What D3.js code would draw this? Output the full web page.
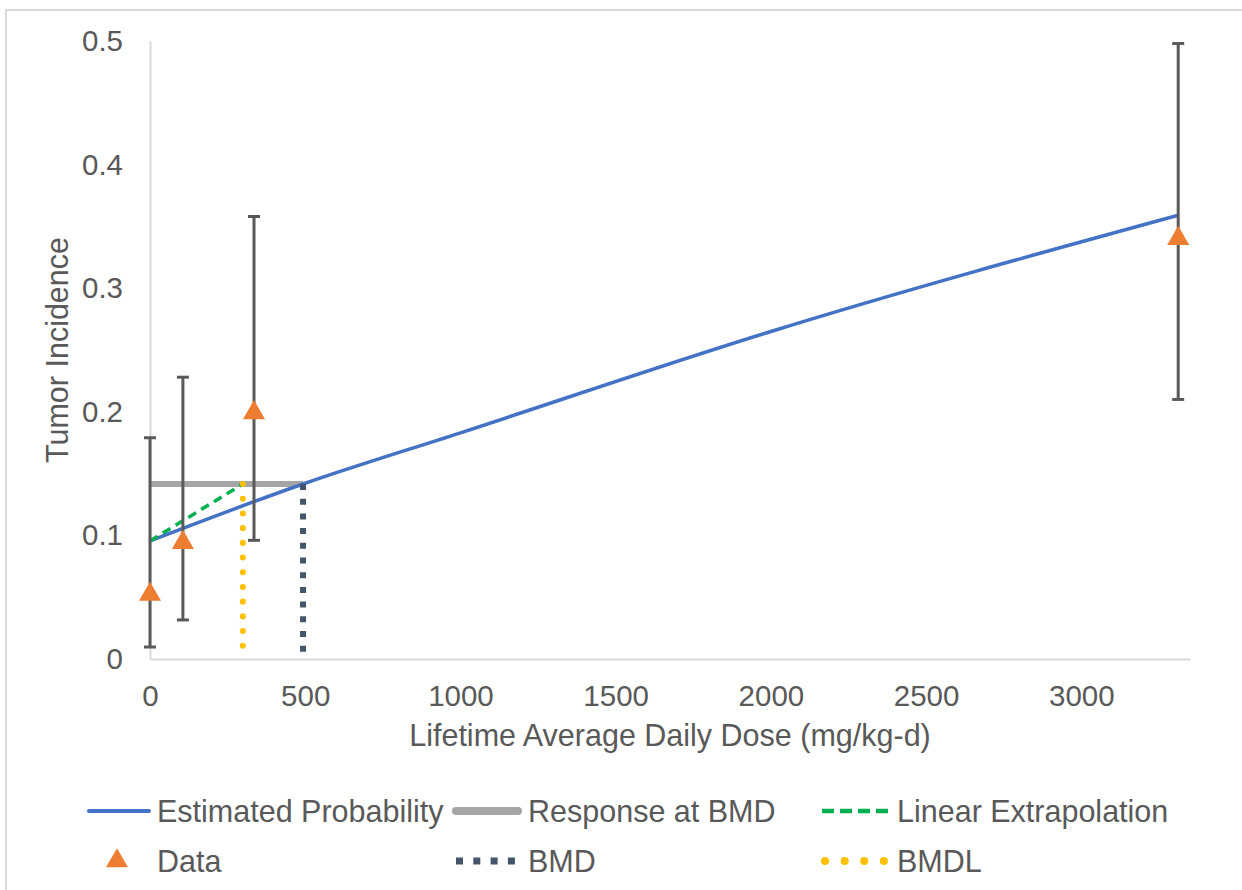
<!DOCTYPE html>
<html>
<head>
<meta charset="utf-8">
<script src="https://cdn.jsdelivr.net/npm/d3@7"></script>
<style>
  body { margin: 0; background: #fff; }
  text { font-family: "Liberation Sans", Arial, sans-serif; fill: #595959; }
</style>
</head>
<body>
<div id="graph"></div>
<script>
// observed data (dose, incidence, 95% limits)
const doses = [0, 106, 335, 3312];
const incidence = [0.053, 0.095, 0.2, 0.341];
const lowerCI = [0.0097, 0.0316, 0.096, 0.21];
const upperCI = [0.179, 0.228, 0.358, 0.498];

// model curve
const modelDose = [0, 493, 1000, 2000, 3312];
const modelProb = [0.0955, 0.1416, 0.183, 0.265, 0.359];

const bmd = 493;
const bmdl = 299;
const bmr = 0.1416;
const background = 0.0955;

const xTicks = [0, 500, 1000, 1500, 2000, 2500, 3000];
const yTicks = [0, 0.1, 0.2, 0.3, 0.4, 0.5];

const legendItems = ['Estimated Probability', 'Response at BMD', 'Linear Extrapolation', 'Data', 'BMD', 'BMDL'];

const width = 1242, height = 890;

const svg = d3.select('#graph').append('svg')
    .attr('width', width)
    .attr('height', height);

svg.append('rect')
    .attr('x', 6).attr('y', 10)
    .attr('width', 1400).attr('height', 1000)
    .attr('fill', '#fff')
    .attr('stroke', '#d9d9d9')
    .attr('stroke-width', 2);

const xScale = d3.scaleLinear().domain([0, 3350]).range([150, 1190]);
const yScale = d3.scaleLinear().domain([0, 0.5]).range([659, 41]);

// axes
const xAxis = svg.append('g')
    .attr('transform', `translate(0,${yScale(0)})`)
    .call(d3.axisBottom(xScale).tickValues(xTicks).tickSize(0).tickFormat(d3.format('d')));
const yAxis = svg.append('g')
    .attr('transform', `translate(${xScale(0)},0)`)
    .call(d3.axisLeft(yScale).tickValues(yTicks).tickSize(0).tickPadding(27).tickFormat(d => d === 0 ? '0' : d3.format('.1f')(d)));

[xAxis, yAxis].forEach(a => {
    a.select('.domain').attr('stroke', '#d9d9d9').attr('stroke-width', 2);
    a.selectAll('text').style('font-size', '29.5px').attr('fill', '#595959');
});
xAxis.selectAll('text').attr('y', 37).attr('dy', '0.35em');

svg.append('text')
    .attr('x', 670).attr('y', 746)
    .attr('text-anchor', 'middle')
    .style('font-size', '30.5px')
    .text('Lifetime Average Daily Dose (mg/kg-d)');

svg.append('text')
    .attr('transform', `translate(68,350) rotate(-90)`)
    .attr('text-anchor', 'middle')
    .style('font-size', '30.5px')
    .text('Tumor Incidence');

const line = d3.line()
    .x(d => xScale(d[0]))
    .y(d => yScale(d[1]));

// response at BMD
svg.append('path')
    .attr('d', line([[0, bmr], [bmd, bmr]]))
    .attr('fill', 'none').attr('stroke', '#a5a5a5').attr('stroke-width', 6);

// estimated probability
svg.append('path')
    .attr('d', line.curve(d3.curveMonotoneX)(d3.zip(modelDose, modelProb)))
    .attr('fill', 'none').attr('stroke', '#4472c4').attr('stroke-width', 3.5);
line.curve(d3.curveLinear);

// linear extrapolation
svg.append('path')
    .attr('d', line([[0, background], [bmdl, bmr]]))
    .attr('fill', 'none').attr('stroke', '#00b050').attr('stroke-width', 3.5)
    .attr('stroke-dasharray', '9,6');

// BMD
svg.append('path')
    .attr('d', line([[bmd, bmr], [bmd, 0]]))
    .attr('fill', 'none').attr('stroke', '#44546a').attr('stroke-width', 6)
    .attr('stroke-dasharray', '6,8.7');

// BMDL
svg.append('path')
    .attr('d', line([[bmdl, bmr], [bmdl, 0.006]]))
    .attr('fill', 'none').attr('stroke', '#ffc000').attr('stroke-width', 6)
    .attr('stroke-linecap', 'round')
    .attr('stroke-dasharray', '0.1,14.6');

// error bars
const data = doses.map((d, i) => ({ dose: d, inc: incidence[i], lo: lowerCI[i], hi: upperCI[i] }));

const bars = svg.append('g').selectAll('g').data(data).enter().append('g')
    .attr('stroke', '#595959').attr('stroke-width', 3);
bars.append('line')
    .attr('x1', d => xScale(d.dose)).attr('x2', d => xScale(d.dose))
    .attr('y1', d => yScale(d.lo)).attr('y2', d => yScale(d.hi));
bars.append('line')
    .attr('x1', d => xScale(d.dose) - 6).attr('x2', d => xScale(d.dose) + 6)
    .attr('y1', d => yScale(d.hi)).attr('y2', d => yScale(d.hi));
bars.append('line')
    .attr('x1', d => xScale(d.dose) - 6).attr('x2', d => xScale(d.dose) + 6)
    .attr('y1', d => yScale(d.lo)).attr('y2', d => yScale(d.lo));

const tri = d3.symbol().type(d3.symbolTriangle).size(210);

svg.append('g').selectAll('path').data(data).enter().append('path')
    .attr('d', tri)
    .attr('transform', d => `translate(${xScale(d.dose)},${yScale(d.inc) + 1})`)
    .attr('fill', '#ed7d31');

// legend
const legendPos = [
    { x: 157, y: 811 }, { x: 528, y: 811 }, { x: 897, y: 811 },
    { x: 157, y: 861 }, { x: 528, y: 861 }, { x: 897, y: 861 }
];

const legend = svg.append('g');
legendItems.forEach((name, i) => {
    const p = legendPos[i];
    const g = legend.append('g').attr('transform', `translate(${p.x},${p.y})`);
    if (name === 'Estimated Probability') {
        g.append('line').attr('x1', -68).attr('x2', -8).attr('stroke', '#4472c4').attr('stroke-width', 4).attr('stroke-linecap', 'round');
    } else if (name === 'Response at BMD') {
        g.append('line').attr('x1', -72).attr('x2', -10).attr('stroke', '#a5a5a5').attr('stroke-width', 8).attr('stroke-linecap', 'round');
    } else if (name === 'Linear Extrapolation') {
        g.append('line').attr('x1', -75).attr('x2', -7).attr('stroke', '#00b050').attr('stroke-width', 4.5)
            .attr('stroke-dasharray', '12,6');
    } else if (name === 'Data') {
        g.append('path').attr('d', tri).attr('transform', 'translate(-40,0)').attr('fill', '#ed7d31');
    } else if (name === 'BMD') {
        g.append('line').attr('x1', -72).attr('x2', -13).attr('stroke', '#44546a').attr('stroke-width', 7)
            .attr('stroke-dasharray', '7,10.3');
    } else {
        g.append('line').attr('x1', -72).attr('x2', -10).attr('stroke', '#ffc000').attr('stroke-width', 8)
            .attr('stroke-linecap', 'round').attr('stroke-dasharray', '0.1,19.5');
    }
    g.append('text')
        .attr('x', 0).attr('dy', '0.35em')
        .style('font-size', '30.5px')
        .text(name);
});
</script>
</body>
</html>
